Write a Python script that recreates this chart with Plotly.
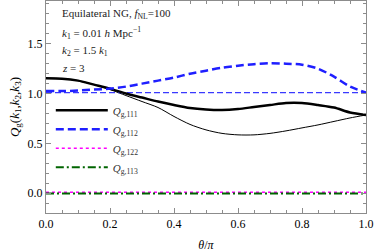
import plotly.graph_objects as go

theta = [0.0, 0.05, 0.1, 0.15, 0.2, 0.25, 0.3, 0.35, 0.4, 0.45, 0.5, 0.55, 0.6, 0.65, 0.7, 0.75, 0.8, 0.85, 0.9, 0.95, 1.0]

q111_thick = [1.155, 1.15, 1.13, 1.09, 1.05, 1.00, 0.96, 0.92, 0.885, 0.855, 0.84, 0.835, 0.845, 0.865, 0.885, 0.905, 0.905, 0.885, 0.86, 0.81, 0.785]
q111_thin = [1.155, 1.15, 1.13, 1.09, 1.04, 0.98, 0.92, 0.86, 0.77, 0.69, 0.635, 0.60, 0.585, 0.585, 0.60, 0.625, 0.655, 0.685, 0.72, 0.755, 0.785]
q112_thick = [1.025, 1.025, 1.03, 1.04, 1.05, 1.07, 1.10, 1.13, 1.16, 1.20, 1.23, 1.26, 1.28, 1.295, 1.305, 1.30, 1.29, 1.25, 1.17, 1.07, 1.01]
q112_thin = [1.01] * 21
q122 = [0.008] * 21
q113 = [-0.004] * 21

serif = "Liberation Serif"
axis_gray = "#8c8c8c"

fig = go.Figure()
fig.add_trace(go.Scatter(x=theta, y=q111_thin, mode="lines", line=dict(color="black", width=1, shape="spline", smoothing=0.8), showlegend=False))
fig.add_trace(go.Scatter(x=theta, y=q112_thin, mode="lines", line=dict(color="#3a3aff", width=1.3, dash="6px,3px"), showlegend=False))
fig.add_trace(go.Scatter(x=theta, y=q111_thick, mode="lines", name="<i>Q</i><sub>g,111</sub>", line=dict(color="black", width=2.5, shape="spline", smoothing=0.8)))
fig.add_trace(go.Scatter(x=theta, y=q112_thick, mode="lines", name="<i>Q</i><sub>g,112</sub>", line=dict(color="#1f1fff", width=2.5, dash="8px,4px", shape="spline", smoothing=0.8)))
fig.add_trace(go.Scatter(x=theta, y=q122, mode="lines", name="<i>Q</i><sub>g,122</sub>", line=dict(color="#ff00ff", width=1.6, dash="3px,3px")))
fig.add_trace(go.Scatter(x=theta, y=q113, mode="lines", name="<i>Q</i><sub>g,113</sub>", line=dict(color="#006400", width=2, dash="8px,3px,2px,3px")))

axis_common = dict(
    showline=True, linecolor=axis_gray, linewidth=1, mirror="ticks",
    ticks="inside", ticklen=5, tickcolor=axis_gray, showgrid=False, zeroline=False,
    tickfont=dict(family=serif, size=12, color="black"),
)
fig.update_xaxes(range=[0, 1], tickvals=[0, 0.2, 0.4, 0.6, 0.8, 1.0], tickformat=".1f",
                 minor=dict(dtick=0.05, ticks="inside", ticklen=3, tickcolor=axis_gray),
                 title=dict(text="<i>θ</i>/<i>π</i>", font=dict(family=serif, size=12, color="black"), standoff=10),
                 **axis_common)
fig.update_yaxes(range=[-0.2, 1.93], tickvals=[0, 0.5, 1.0, 1.5], tickformat=".1f",
                 minor=dict(dtick=0.1, ticks="inside", ticklen=3, tickcolor=axis_gray),
                 title=dict(text="<i>Q</i><sub>g</sub>(<i>k</i><sub>1</sub>,<i>k</i><sub>2</sub>,<i>k</i><sub>3</sub>)",
                            font=dict(family=serif, size=13, color="black"), standoff=5),
                 **axis_common)

ann_font = dict(family=serif, size=11, color="#222222")
texts = [
    ("Equilateral NG, <i>f</i><sub>NL</sub>=100", 0.94),
    ("<i>k</i><sub>1</sub> = 0.01 <i>h</i> Mpc<sup>−1</sup>", 0.85),
    ("<i>k</i><sub>2</sub> = 1.5 <i>k</i><sub>1</sub>", 0.765),
    ("<i>z</i> = 3", 0.685),
]
for t, yy in texts:
    fig.add_annotation(text=t, xref="paper", yref="paper", x=0.045, y=yy, xanchor="left", yanchor="middle",
                       showarrow=False, font=ann_font)

fig.update_layout(
    width=374, height=252,
    margin=dict(l=46, r=8, t=1, b=39),
    paper_bgcolor="white", plot_bgcolor="white",
    legend=dict(x=0.015, y=0.553, xanchor="left", yanchor="top", bgcolor="rgba(0,0,0,0)",
                font=dict(family=serif, size=11, color="#333333"), tracegroupgap=0, itemwidth=52),
)
fig.write_html("out.html", config={"displayModeBar": False},
               post_script="document.body.style.margin='0';document.body.style.overflow='hidden';")
